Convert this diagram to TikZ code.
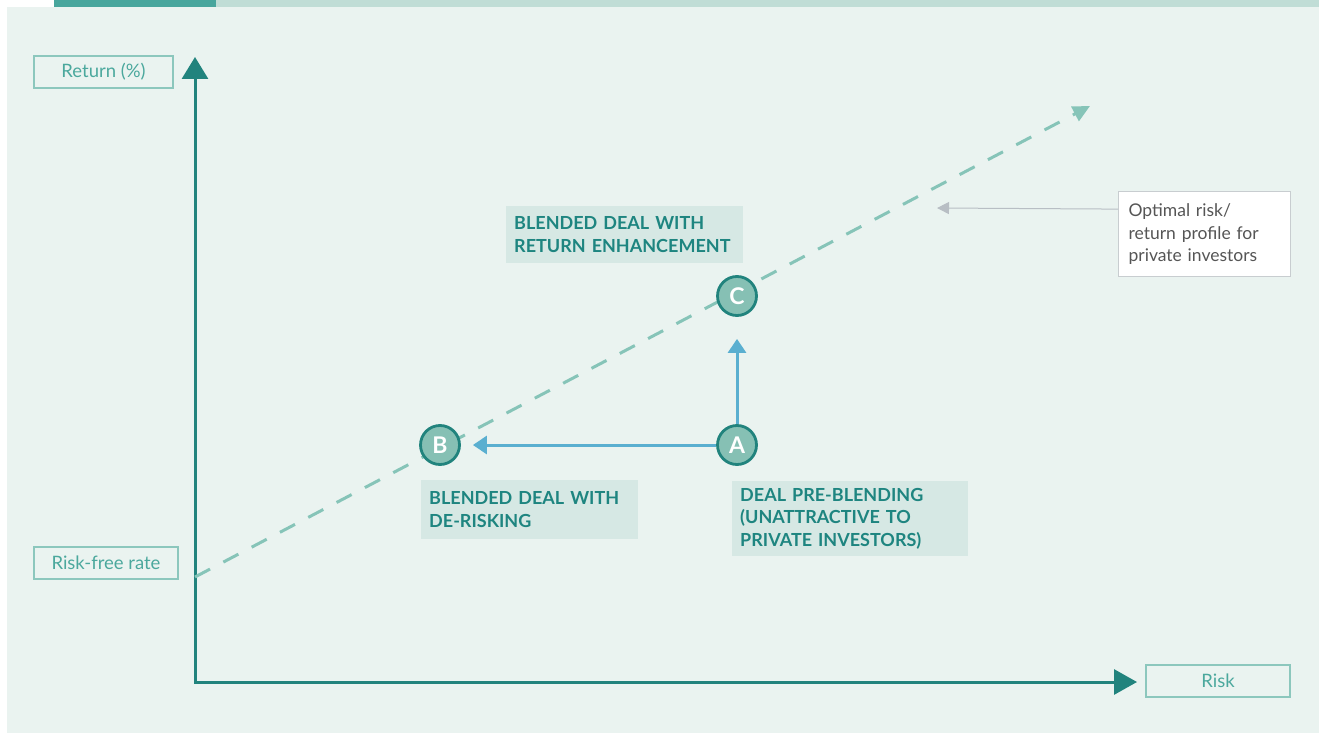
\documentclass[tikz,border=0pt]{standalone}
\usepackage{fontspec}
\setmainfont{Lato}
\usepackage{tikz}
\usetikzlibrary{arrows.meta}
\definecolor{panel}{RGB}{234,243,240}
\definecolor{bardark}{RGB}{72,166,157}
\definecolor{barlight}{RGB}{192,221,214}
\definecolor{axisteal}{RGB}{33,131,125}
\definecolor{boxline}{RGB}{140,199,189}
\definecolor{boxtext}{RGB}{75,168,157}
\definecolor{capfill}{RGB}{214,232,228}
\definecolor{captext}{RGB}{30,133,128}
\definecolor{frontier}{RGB}{134,196,184}
\definecolor{dotfill}{RGB}{134,192,180}
\definecolor{moveblue}{RGB}{90,175,208}
\definecolor{hintgrey}{RGB}{184,190,196}
\definecolor{hintline}{RGB}{200,205,208}
\definecolor{hinttext}{RGB}{85,85,85}
\tikzset{
  axislabel/.style={draw=boxline, line width=1.2pt, text=boxtext, inner sep=0pt,
    minimum height=32pt, font=\fontsize{18.5}{20}\selectfont},
  dealpoint/.style={circle, fill=dotfill, draw=axisteal, line width=2.8pt,
    minimum size=39pt, inner sep=0pt, text=white, font=\fontsize{23}{23}\selectfont\bfseries},
  caption/.style={fill=capfill, text=captext, anchor=north west, align=left,
    inner xsep=8pt, text width=#1, font=\fontsize{18}{22.5}\selectfont\bfseries},
  move/.style={draw=moveblue, line width=3pt, -{Triangle[length=14pt,width=18pt]}},
  axisline/.style={draw=axisteal, line width=3pt,
    {Triangle[length=22pt,width=26pt]}-{Triangle[length=23pt,width=25pt]}}
}
\begin{document}
\begin{tikzpicture}[x=1pt,y=-1pt]
\useasboundingbox (0,0) rectangle (1319,733);
\fill[white] (0,0) rectangle (1319,733);
\fill[panel] (7,7) rectangle (1319,733);
\fill[bardark] (54,0) rectangle (216,7);
\fill[barlight] (216,0) rectangle (1319,7);

\coordinate (origin) at (195,682);
\coordinate (ytip) at (195,57);
\coordinate (xtip) at (1137,682);
\coordinate (rf) at (195,577);
\coordinate (optend) at (1090,106);
\coordinate (hinttip) at (937,208);

\draw[axisline] (ytip) -- (origin) -- (xtip);
\draw[frontier, line width=3pt, dash pattern=on 17pt off 15pt,
  -{Triangle[length=17pt,width=16pt]}] (rf) -- (optend);

\node[axislabel, minimum width=139pt] (ret) at (103.5,72) {Return (\%)};
\node[axislabel, minimum width=144pt] (rfr) at (106,563) {Risk-free rate};
\node[axislabel, minimum width=144pt] (risk) at (1218,681) {Risk};

\node[dealpoint] (A) at (737,445) {A};
\node[dealpoint] (B) at (440,445) {B};
\node[dealpoint] (C) at (737,296) {C};

\node[caption=221pt, minimum height=57pt] (capC) at (506,206)
  {BLENDED DEAL WITH\\RETURN ENHANCEMENT};
\node[caption=201pt, minimum height=59pt] (capB) at (421,480)
  {BLENDED DEAL WITH\\DE-RISKING};
\node[caption=220pt, minimum height=75pt] (capA) at (732,481)
  {DEAL PRE-BLENDING\\(UNATTRACTIVE TO\\PRIVATE INVESTORS)};

\draw[move, shorten >=12pt] (A) -- (B);
\draw[move, shorten >=22pt] (A) -- (C);

\node[fill=white, draw=hintline, line width=1.2pt, text=hinttext, align=left,
  anchor=north west, inner xsep=10pt, text width=152pt, minimum height=85pt,
  font=\fontsize{17.5}{22.5}\selectfont] (opt) at (1118,191)
  {Optimal risk/\\return profile for\\private investors};
\draw[hintgrey, line width=1pt, -{Triangle[length=12pt,width=12pt]}]
  ([yshift=25pt]opt.west) -- (hinttip);
\end{tikzpicture}
\end{document}
